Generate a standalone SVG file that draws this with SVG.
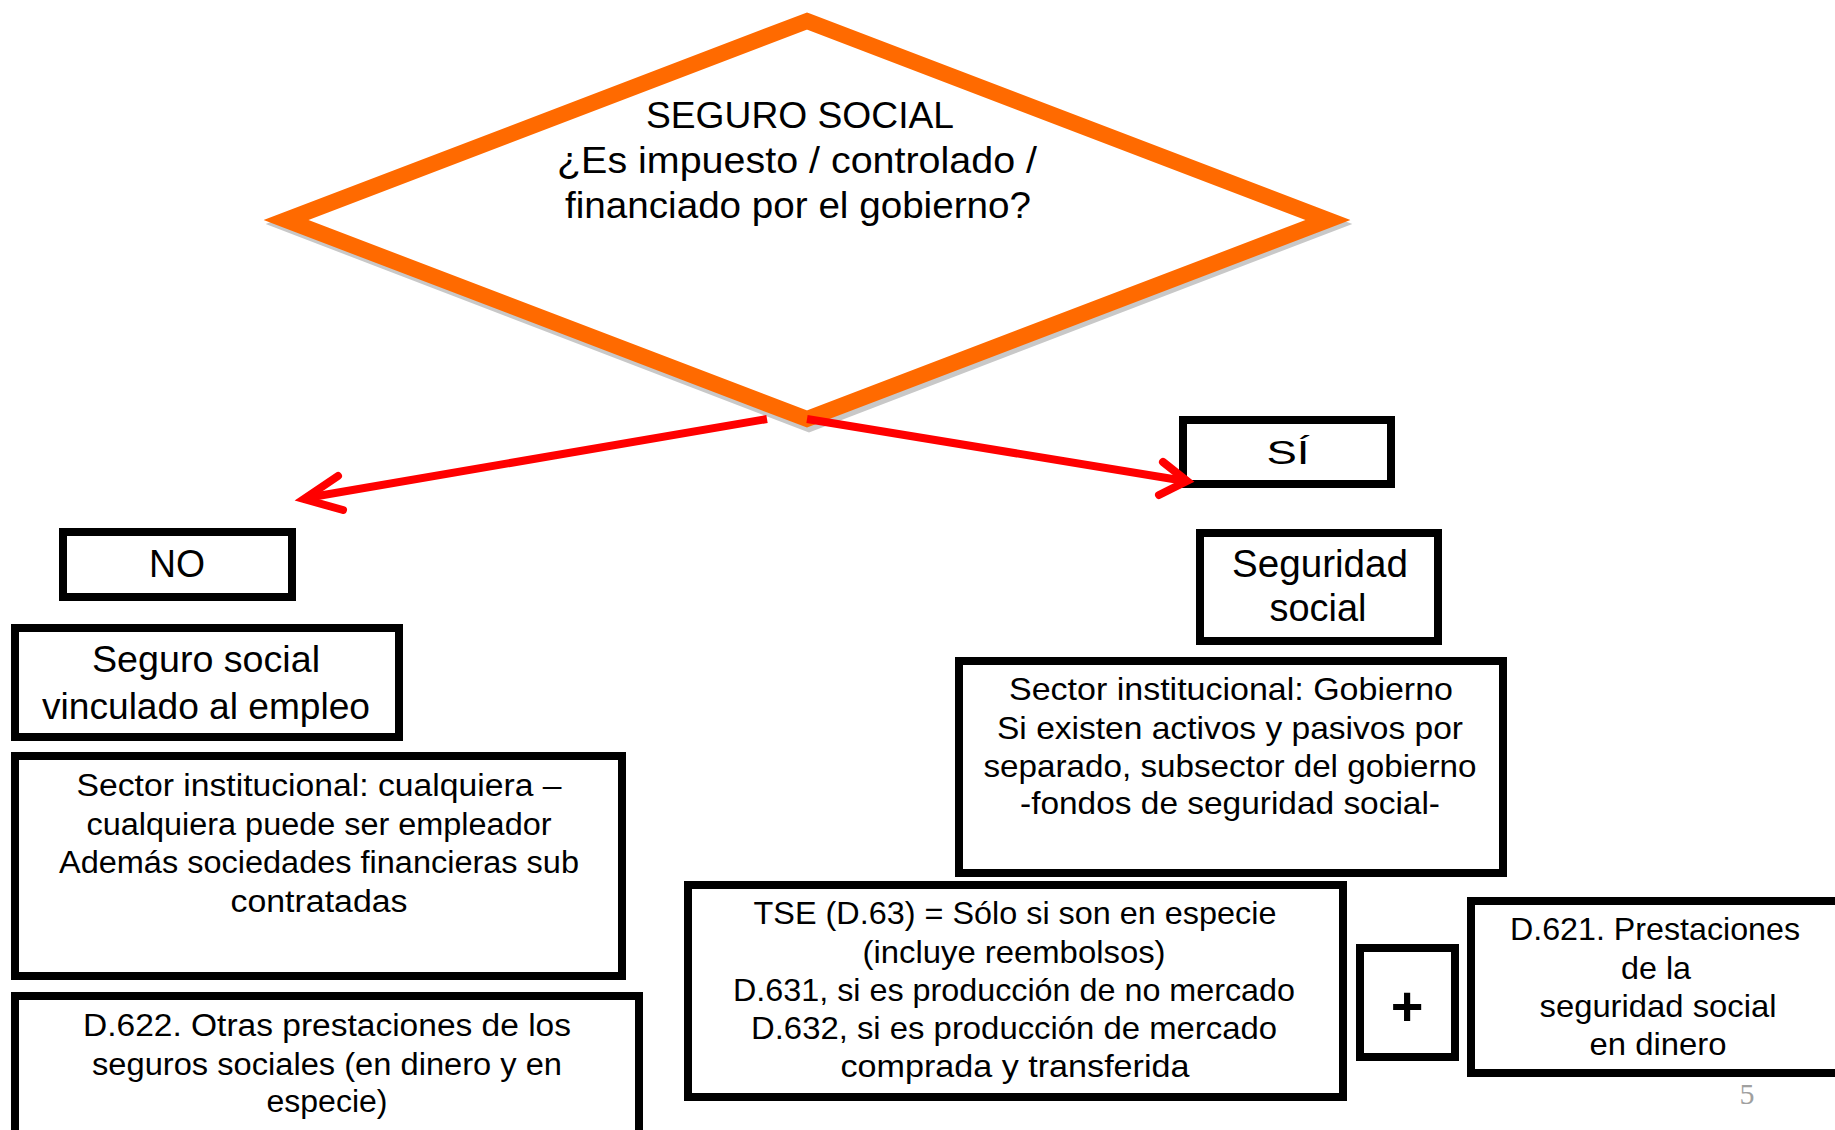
<svg xmlns="http://www.w3.org/2000/svg" width="1835" height="1130" viewBox="0 0 1835 1130">
<style>
.box{fill:#fff;stroke:#000;stroke-width:8}
.t{font-family:"Liberation Sans","DejaVu Sans",sans-serif;fill:#000;text-anchor:middle}
.arrow{fill:none;stroke:#FF0000;stroke-width:8}
</style>
<rect width="1835" height="1130" fill="#fff"/>
<g id="decision">
<polygon points="809,25 1330,224 809,424 288,224" fill="none" stroke="#C8C8C8" stroke-width="16"/>
<polygon points="807,21 1328,220 807,419 286,220" fill="#fff" stroke="#FF6A00" stroke-width="16"/>
<text class="t" font-size="37"><tspan x="800" y="128" textLength="308" lengthAdjust="spacingAndGlyphs">SEGURO SOCIAL</tspan><tspan x="797" y="173" textLength="480" lengthAdjust="spacingAndGlyphs">¿Es impuesto / controlado /</tspan><tspan x="798" y="218" textLength="466" lengthAdjust="spacingAndGlyphs">financiado por el gobierno?</tspan></text>
</g>
<g id="no">
<rect class="box" x="63" y="532" width="229" height="65"/>
<text class="t" font-size="38" x="177" y="577" textLength="56" lengthAdjust="spacingAndGlyphs">NO</text>
</g>
<g id="seguro-empleo">
<rect class="box" x="15" y="628" width="384" height="109"/>
<text class="t" font-size="36"><tspan x="206" y="672" textLength="228" lengthAdjust="spacingAndGlyphs">Seguro social</tspan><tspan x="206" y="719" textLength="328" lengthAdjust="spacingAndGlyphs">vinculado al empleo</tspan></text>
</g>
<g id="sector-cualquiera">
<rect class="box" x="15" y="756" width="607" height="220"/>
<text class="t" font-size="31"><tspan x="319" y="796" textLength="485" lengthAdjust="spacingAndGlyphs">Sector institucional: cualquiera –</tspan><tspan x="319" y="835" textLength="465" lengthAdjust="spacingAndGlyphs">cualquiera puede ser empleador</tspan><tspan x="319" y="873" textLength="520" lengthAdjust="spacingAndGlyphs">Además sociedades financieras sub</tspan><tspan x="319" y="912" textLength="177" lengthAdjust="spacingAndGlyphs">contratadas</tspan></text>
</g>
<g id="d622">
<rect class="box" x="15" y="996" width="624" height="160"/>
<text class="t" font-size="31"><tspan x="327" y="1036" textLength="488" lengthAdjust="spacingAndGlyphs">D.622. Otras prestaciones de los</tspan><tspan x="327" y="1075" textLength="470" lengthAdjust="spacingAndGlyphs">seguros sociales (en dinero y en</tspan><tspan x="327" y="1112" textLength="121" lengthAdjust="spacingAndGlyphs">especie)</tspan></text>
</g>
<g id="si">
<rect class="box" x="1183" y="420" width="208" height="64"/>
<text class="t" font-size="34" x="1288" y="464" textLength="43" lengthAdjust="spacingAndGlyphs">SÍ</text>
</g>
<g id="seguridad-social">
<rect class="box" x="1200" y="533" width="238" height="108"/>
<text class="t" font-size="38"><tspan x="1320" y="577" textLength="176" lengthAdjust="spacingAndGlyphs">Seguridad</tspan><tspan x="1318" y="621" textLength="97" lengthAdjust="spacingAndGlyphs">social</tspan></text>
</g>
<g id="sector-gobierno">
<rect class="box" x="959" y="661" width="544" height="212"/>
<text class="t" font-size="32"><tspan x="1231" y="700" textLength="444" lengthAdjust="spacingAndGlyphs">Sector institucional: Gobierno</tspan><tspan x="1230" y="739" textLength="466" lengthAdjust="spacingAndGlyphs">Si existen activos y pasivos por</tspan><tspan x="1230" y="777" textLength="493" lengthAdjust="spacingAndGlyphs">separado, subsector del gobierno</tspan><tspan x="1230" y="814" textLength="420" lengthAdjust="spacingAndGlyphs">-fondos de seguridad social-</tspan></text>
</g>
<g id="tse">
<rect class="box" x="688" y="885" width="655" height="212"/>
<text class="t" font-size="32"><tspan x="1015" y="924" textLength="523" lengthAdjust="spacingAndGlyphs">TSE (D.63) = Sólo si son en especie</tspan><tspan x="1014" y="963" textLength="303" lengthAdjust="spacingAndGlyphs">(incluye reembolsos)</tspan><tspan x="1014" y="1001" textLength="562" lengthAdjust="spacingAndGlyphs">D.631, si es producción de no mercado</tspan><tspan x="1014" y="1039" textLength="526" lengthAdjust="spacingAndGlyphs">D.632, si es producción de mercado</tspan><tspan x="1015" y="1077" textLength="349" lengthAdjust="spacingAndGlyphs">comprada y transferida</tspan></text>
</g>
<g id="plus">
<rect class="box" x="1360" y="948" width="95" height="109"/>
<text class="t" font-size="56" font-weight="bold" x="1407" y="1025">+</text>
</g>
<g id="d621">
<rect class="box" x="1471" y="901" width="400" height="172"/>
<text class="t" font-size="32"><tspan x="1655" y="940" textLength="290" lengthAdjust="spacingAndGlyphs">D.621. Prestaciones</tspan><tspan x="1656" y="979" textLength="70" lengthAdjust="spacingAndGlyphs">de la</tspan><tspan x="1658" y="1017" textLength="237" lengthAdjust="spacingAndGlyphs">seguridad social</tspan><tspan x="1658" y="1055" textLength="137" lengthAdjust="spacingAndGlyphs">en dinero</tspan></text>
</g>
<g id="connectors">
<path class="arrow" d="M767,419 L306,498"/>
<path class="arrow" d="M338,476 L304,499 L343,510" stroke-linecap="round" stroke-linejoin="miter"/>
<path class="arrow" d="M807,419 L1185,481"/>
<path class="arrow" d="M1163,462 L1187,481 L1159,495" stroke-linecap="round" stroke-linejoin="miter"/>
</g>
<text x="1747" y="1104" font-family="Liberation Serif,serif" font-size="30" fill="#A0A0A0" text-anchor="middle">5</text>
</svg>
